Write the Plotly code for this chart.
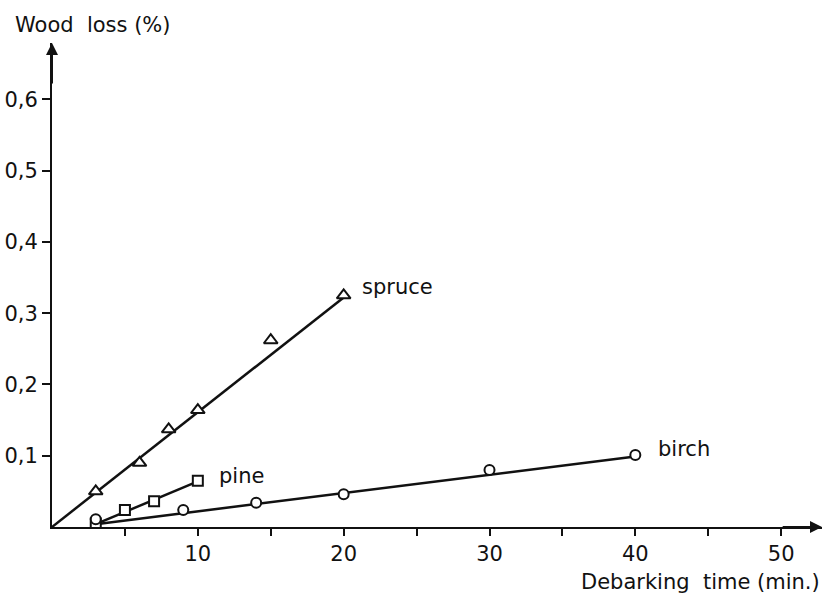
import plotly.graph_objects as go

# ---- data ----
spruce_x = [3, 6, 8, 10, 15, 20]
spruce_y = [0.050, 0.090, 0.137, 0.164, 0.262, 0.325]
pine_x = [3, 5, 7, 10]
pine_y = [0.005, 0.024, 0.036, 0.065]
birch_x = [3, 9, 14, 20, 30, 40]
birch_y = [0.011, 0.024, 0.034, 0.046, 0.080, 0.101]

# fitted straight lines (end points)
spruce_fit_x = [0, 20]
spruce_fit_y = [0.0, 0.322]
pine_fit_x = [3, 10]
pine_fit_y = [0.004, 0.064]
birch_fit_x = [3, 40]
birch_fit_y = [0.004, 0.099]

x_ticks = [5, 10, 15, 20, 25, 30, 35, 40, 45, 50]
x_ticktext = ["", "10", "", "20", "", "30", "", "40", "", "50"]
y_ticks = [0.1, 0.2, 0.3, 0.4, 0.5, 0.6]

FONT = "DejaVu Sans"
INK = "#111111"

fig = go.Figure()
for fx, fy in [(spruce_fit_x, spruce_fit_y), (pine_fit_x, pine_fit_y), (birch_fit_x, birch_fit_y)]:
    fig.add_trace(go.Scatter(x=fx, y=fy, mode="lines",
                             line=dict(color=INK, width=2.5), showlegend=False, hoverinfo="skip"))

for xs, ys, sym, sz in [(spruce_x, spruce_y, "triangle-up", 12),
                        (pine_x, pine_y, "square", 10),
                        (birch_x, birch_y, "circle", 10)]:
    fig.add_trace(go.Scatter(x=xs, y=ys, mode="markers",
                             marker=dict(symbol=sym, size=sz, color="white",
                                         line=dict(color=INK, width=2)),
                             showlegend=False))

labels = [("spruce", 21.1, 0.337), ("pine", 11.3, 0.072), ("birch", 41.4, 0.109)]
for txt, lx, ly in labels:
    fig.add_annotation(x=lx, y=ly, xref="x", yref="y", text=txt, showarrow=False,
                       xanchor="left", yanchor="middle",
                       font=dict(family=FONT, size=21, color=INK))

# axis arrows
fig.add_annotation(x=0, y=0.679, ax=0, ay=0.62, xref="x", yref="y", axref="x", ayref="y",
                   text="", showarrow=True, arrowhead=2, arrowsize=1.2, arrowwidth=2, arrowcolor=INK)
fig.add_annotation(x=52.8, y=0, ax=50, ay=0, xref="x", yref="y", axref="x", ayref="y",
                   text="", showarrow=True, arrowhead=2, arrowsize=1.2, arrowwidth=2, arrowcolor=INK)

# axis titles
fig.add_annotation(x=-0.0506, y=1.037, xref="paper", yref="paper",
                   text="Wood\u00a0 loss (%)", showarrow=False, xanchor="left", yanchor="middle",
                   font=dict(family=FONT, size=21, color=INK))
fig.add_annotation(x=1.0, y=-0.114, xref="paper", yref="paper",
                   text="Debarking\u00a0 time (min.)", showarrow=False, xanchor="right", yanchor="middle",
                   font=dict(family=FONT, size=21, color=INK))

fig.update_layout(
    width=829, height=599,
    margin=dict(l=52, r=7, t=43, b=72, autoexpand=False),
    paper_bgcolor="white", plot_bgcolor="white",
    separators=",.",
    showlegend=False,
    font=dict(family=FONT, size=21, color=INK),
)
fig.update_xaxes(range=[0, 52.8], showgrid=False, zeroline=False, automargin=False,
                 showline=True, linecolor=INK, linewidth=2,
                 ticks="outside", ticklen=7, tickwidth=2, tickcolor=INK,
                 tickvals=x_ticks, ticktext=x_ticktext,
                 tickfont=dict(family=FONT, size=21, color=INK))
fig.update_yaxes(range=[0, 0.679], showgrid=False, zeroline=False, automargin=False,
                 showline=True, linecolor=INK, linewidth=2,
                 ticks="outside", ticklen=8, tickwidth=2, tickcolor=INK,
                 tickvals=y_ticks, tickformat=".1f",
                 tickfont=dict(family=FONT, size=21, color=INK))

fig.write_html("out.html")
